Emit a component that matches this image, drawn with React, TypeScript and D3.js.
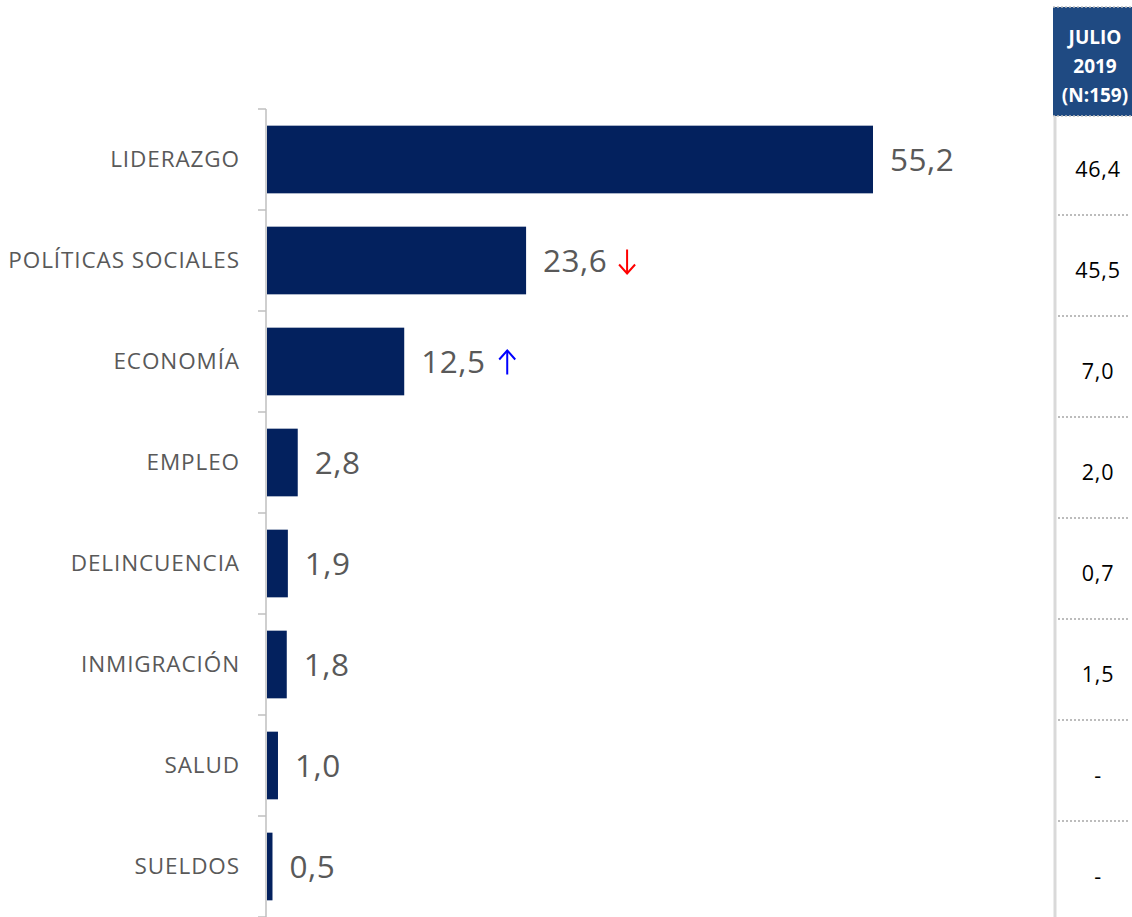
import React from "react";
import * as d3 from "d3";

const categories = ["LIDERAZGO", "POLÍTICAS SOCIALES", "ECONOMÍA", "EMPLEO", "DELINCUENCIA", "INMIGRACIÓN", "SALUD", "SUELDOS"];
const values = [55.2, 23.6, 12.5, 2.8, 1.9, 1.8, 1.0, 0.5];
const trends = ["", "down", "up", "", "", "", "", ""];
const previous = ["46,4", "45,5", "7,0", "2,0", "0,7", "1,5", "-", "-"];
const headerLines = ["JULIO", "2019", "(N:159)"];

const W = 1132;
const H = 917;
const FONT = "'Open Sans', Roboto, sans-serif";

export default function App() {
  const x = d3.scaleLinear().domain([0, 55.2]).range([267, 873]);
  const y = d3.scaleBand<string>().domain(categories).range([109, 917]).paddingInner(0.33).paddingOuter(0.165);
  const step = y.step();
  const fmt = (v: number) => d3.format(".1f")(v).replace(".", ",");
  const headerTop = 7;
  const headerBottom = 116;
  const tableX0 = 1053;
  const tableCx = 1098;

  return (
    <svg width={W} height={H} style={{ position: "absolute", left: 0, top: 0, display: "block" }} fontFamily={FONT}>
      <rect width={W} height={H} fill="#fff" />
      {/* axis */}
      <line x1={266} x2={266} y1={109} y2={917} stroke="#BFBFBF" strokeWidth={1.5} />
      {d3.range(categories.length + 1).map((i) => (
        <line key={"t" + i} x1={258} x2={266} y1={109 + i * step} y2={109 + i * step} stroke="#BFBFBF" strokeWidth={1.5} />
      ))}
      {categories.map((c, i) => {
        const yy = y(c)!;
        const bw = y.bandwidth();
        const cy = yy + bw / 2;
        const xe = x(values[i]);
        return (
          <g key={c}>
            <rect x={x(0)} y={yy} width={xe - x(0)} height={bw} fill="#03215E" />
            <text x={240} y={cy} dy="0.35em" textAnchor="end" fontSize={22.5} letterSpacing={0.9} fill="#595959">{c}</text>
            <text x={xe + 17} y={cy} dy="0.35em" fontSize={31.5} letterSpacing={0.5} fill="#595959">{fmt(values[i])}</text>
            {trends[i] === "down" && (
              <g stroke="#FF0000" strokeWidth={2} fill="none">
                <line x1={xe + 101} x2={xe + 101} y1={cy - 11} y2={cy + 13} />
                <polyline points={`${xe + 93},${cy + 4} ${xe + 101},${cy + 13} ${xe + 109},${cy + 4}`} />
              </g>
            )}
            {trends[i] === "up" && (
              <g stroke="#0000FF" strokeWidth={2} fill="none">
                <line x1={xe + 103} x2={xe + 103} y1={cy - 11} y2={cy + 13} />
                <polyline points={`${xe + 95},${cy - 2} ${xe + 103},${cy - 11} ${xe + 111},${cy - 2}`} />
              </g>
            )}
          </g>
        );
      })}
      {/* table */}
      <rect x={tableX0} y={headerTop} width={W - tableX0} height={headerBottom - headerTop} fill="#1F4A82" />
      <line x1={tableX0} x2={W} y1={headerTop} y2={headerTop} stroke="#BFBFBF" strokeWidth={1.5} strokeDasharray="2,2" />
      <line x1={tableX0} x2={W} y1={headerBottom} y2={headerBottom} stroke="#BFBFBF" strokeWidth={1.5} strokeDasharray="2,2" />
      <line x1={1055} x2={1055} y1={headerBottom} y2={H} stroke="#D9D9D9" strokeWidth={3} />
      {headerLines.map((t, i) => (
        <text key={t} x={1095} y={37 + i * 29} dy="0.35em" textAnchor="middle" fontSize={19} fontWeight="bold" fill="#fff">{t}</text>
      ))}
      {categories.map((c, i) => {
        const cy = y(c)! + y.bandwidth() / 2;
        return (
          <g key={"p" + c}>
            <text x={tableCx} y={cy + 10} dy="0.35em" textAnchor="middle" fontSize={21.5} letterSpacing={0.8} fill="#000">{previous[i]}</text>
            {i > 0 && (
              <line x1={1058} x2={1128} y1={109 + i * step + 5} y2={109 + i * step + 5} stroke="#A6A6A6" strokeWidth={1.5} strokeDasharray="2,2" />
            )}
          </g>
        );
      })}
    </svg>
  );
}
